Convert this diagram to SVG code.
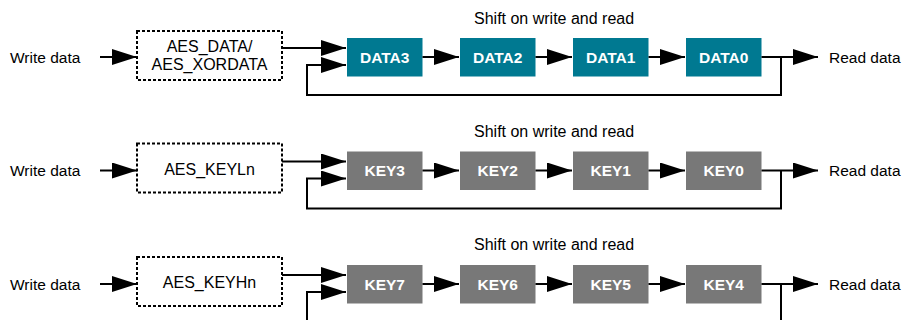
<svg xmlns="http://www.w3.org/2000/svg" width="902" height="320" viewBox="0 0 902 320">
<style>
  .lbl{font-family:"Liberation Sans",Arial,sans-serif;font-size:15.5px;fill:#000}
  .reg{font-family:"Liberation Sans",Arial,sans-serif;font-size:16px;fill:#000}
  .bt{font-family:"Liberation Sans",Arial,sans-serif;font-size:15.5px;font-weight:bold;fill:#fff}
  .data{fill:#007991}
  .key{fill:#787878}
  .dash{fill:#fff;stroke:#000;stroke-width:2;stroke-dasharray:3 2}
  .ln{fill:none;stroke:#000;stroke-width:2}
</style>
<defs>
  <marker id="ah" viewBox="0 0 25 16" refX="25" refY="8" markerWidth="25" markerHeight="16" markerUnits="userSpaceOnUse" orient="auto">
    <path d="M0,0 L25,8 L0,16 z" fill="#000"/>
  </marker>
</defs>
<rect width="902" height="320" fill="#fff"/>

<!-- Row 1 -->
<g id="row1">
  <text class="lbl" x="10" y="62.5">Write data</text>
  <text class="reg" x="474" y="24">Shift on write and read</text>
  <text class="lbl" x="829" y="62.5">Read data</text>
  <g id="aes_data"><rect class="dash" x="137" y="31" width="145" height="49"/>
    <text class="reg" x="209.5" y="52" text-anchor="middle">AES_DATA/</text>
    <text class="reg" x="209.5" y="70" text-anchor="middle">AES_XORDATA</text></g>
  <g id="data3"><rect class="data" x="347" y="38" width="75.5" height="38.5"/><text class="bt" x="384.7" y="62.5" text-anchor="middle">DATA3</text></g>
  <g id="data2"><rect class="data" x="460" y="38" width="75.5" height="38.5"/><text class="bt" x="497.7" y="62.5" text-anchor="middle">DATA2</text></g>
  <g id="data1"><rect class="data" x="573" y="38" width="75.5" height="38.5"/><text class="bt" x="610.7" y="62.5" text-anchor="middle">DATA1</text></g>
  <g id="data0"><rect class="data" x="686" y="38" width="75.5" height="38.5"/><text class="bt" x="723.7" y="62.5" text-anchor="middle">DATA0</text></g>
</g>

<!-- Row 2 -->
<g id="row2" transform="translate(0,113.5)">
  <text class="lbl" x="10" y="62.5">Write data</text>
  <text class="reg" x="474" y="23">Shift on write and read</text>
  <text class="lbl" x="829" y="62.5">Read data</text>
  <g id="aes_keyln"><rect class="dash" x="137" y="30" width="145" height="49"/>
    <text class="reg" x="209.5" y="61" text-anchor="middle">AES_KEYLn</text></g>
  <g id="key3"><rect class="key" x="347" y="38" width="75.5" height="38.5"/><text class="bt" x="384.7" y="62.5" text-anchor="middle">KEY3</text></g>
  <g id="key2"><rect class="key" x="460" y="38" width="75.5" height="38.5"/><text class="bt" x="497.7" y="62.5" text-anchor="middle">KEY2</text></g>
  <g id="key1"><rect class="key" x="573" y="38" width="75.5" height="38.5"/><text class="bt" x="610.7" y="62.5" text-anchor="middle">KEY1</text></g>
  <g id="key0"><rect class="key" x="686" y="38" width="75.5" height="38.5"/><text class="bt" x="723.7" y="62.5" text-anchor="middle">KEY0</text></g>
</g>

<!-- Row 3 -->
<g id="row3" transform="translate(0,227)">
  <text class="lbl" x="10" y="62.5">Write data</text>
  <text class="reg" x="474" y="23">Shift on write and read</text>
  <text class="lbl" x="829" y="62.5">Read data</text>
  <g id="aes_keyhn"><rect class="dash" x="137" y="30" width="145" height="49"/>
    <text class="reg" x="209.5" y="61" text-anchor="middle">AES_KEYHn</text></g>
  <g id="key7"><rect class="key" x="347" y="38" width="75.5" height="38.5"/><text class="bt" x="384.7" y="62.5" text-anchor="middle">KEY7</text></g>
  <g id="key6"><rect class="key" x="460" y="38" width="75.5" height="38.5"/><text class="bt" x="497.7" y="62.5" text-anchor="middle">KEY6</text></g>
  <g id="key5"><rect class="key" x="573" y="38" width="75.5" height="38.5"/><text class="bt" x="610.7" y="62.5" text-anchor="middle">KEY5</text></g>
  <g id="key4"><rect class="key" x="686" y="38" width="75.5" height="38.5"/><text class="bt" x="723.7" y="62.5" text-anchor="middle">KEY4</text></g>
</g>

<!-- Connectors -->
<g id="connectors" class="ln">
  <g id="conn-row1">
    <path class="ln" d="M100,57 H137" marker-end="url(#ah)"/>
    <path class="ln" d="M282,48 H346" marker-end="url(#ah)"/>
    <path class="ln" d="M422.5,57 H459" marker-end="url(#ah)"/>
    <path class="ln" d="M535.5,57 H572" marker-end="url(#ah)"/>
    <path class="ln" d="M648.5,57 H685" marker-end="url(#ah)"/>
    <path class="ln" d="M761.5,57 H818" marker-end="url(#ah)"/>
    <path class="ln" d="M781,57 V95 H307 V65 H346" marker-end="url(#ah)"/>
  </g>
  <g id="conn-row2" transform="translate(0,113.5)">
    <path class="ln" d="M100,57 H137" marker-end="url(#ah)"/>
    <path class="ln" d="M282,48 H346" marker-end="url(#ah)"/>
    <path class="ln" d="M422.5,57 H459" marker-end="url(#ah)"/>
    <path class="ln" d="M535.5,57 H572" marker-end="url(#ah)"/>
    <path class="ln" d="M648.5,57 H685" marker-end="url(#ah)"/>
    <path class="ln" d="M761.5,57 H818" marker-end="url(#ah)"/>
    <path class="ln" d="M781,57 V95 H307 V65 H346" marker-end="url(#ah)"/>
  </g>
  <g id="conn-row3" transform="translate(0,227)">
    <path class="ln" d="M100,57 H137" marker-end="url(#ah)"/>
    <path class="ln" d="M282,48 H346" marker-end="url(#ah)"/>
    <path class="ln" d="M422.5,57 H459" marker-end="url(#ah)"/>
    <path class="ln" d="M535.5,57 H572" marker-end="url(#ah)"/>
    <path class="ln" d="M648.5,57 H685" marker-end="url(#ah)"/>
    <path class="ln" d="M761.5,57 H818" marker-end="url(#ah)"/>
    <path class="ln" d="M781,57 V95 H307 V65 H346" marker-end="url(#ah)"/>
  </g>
</g>
</svg>
